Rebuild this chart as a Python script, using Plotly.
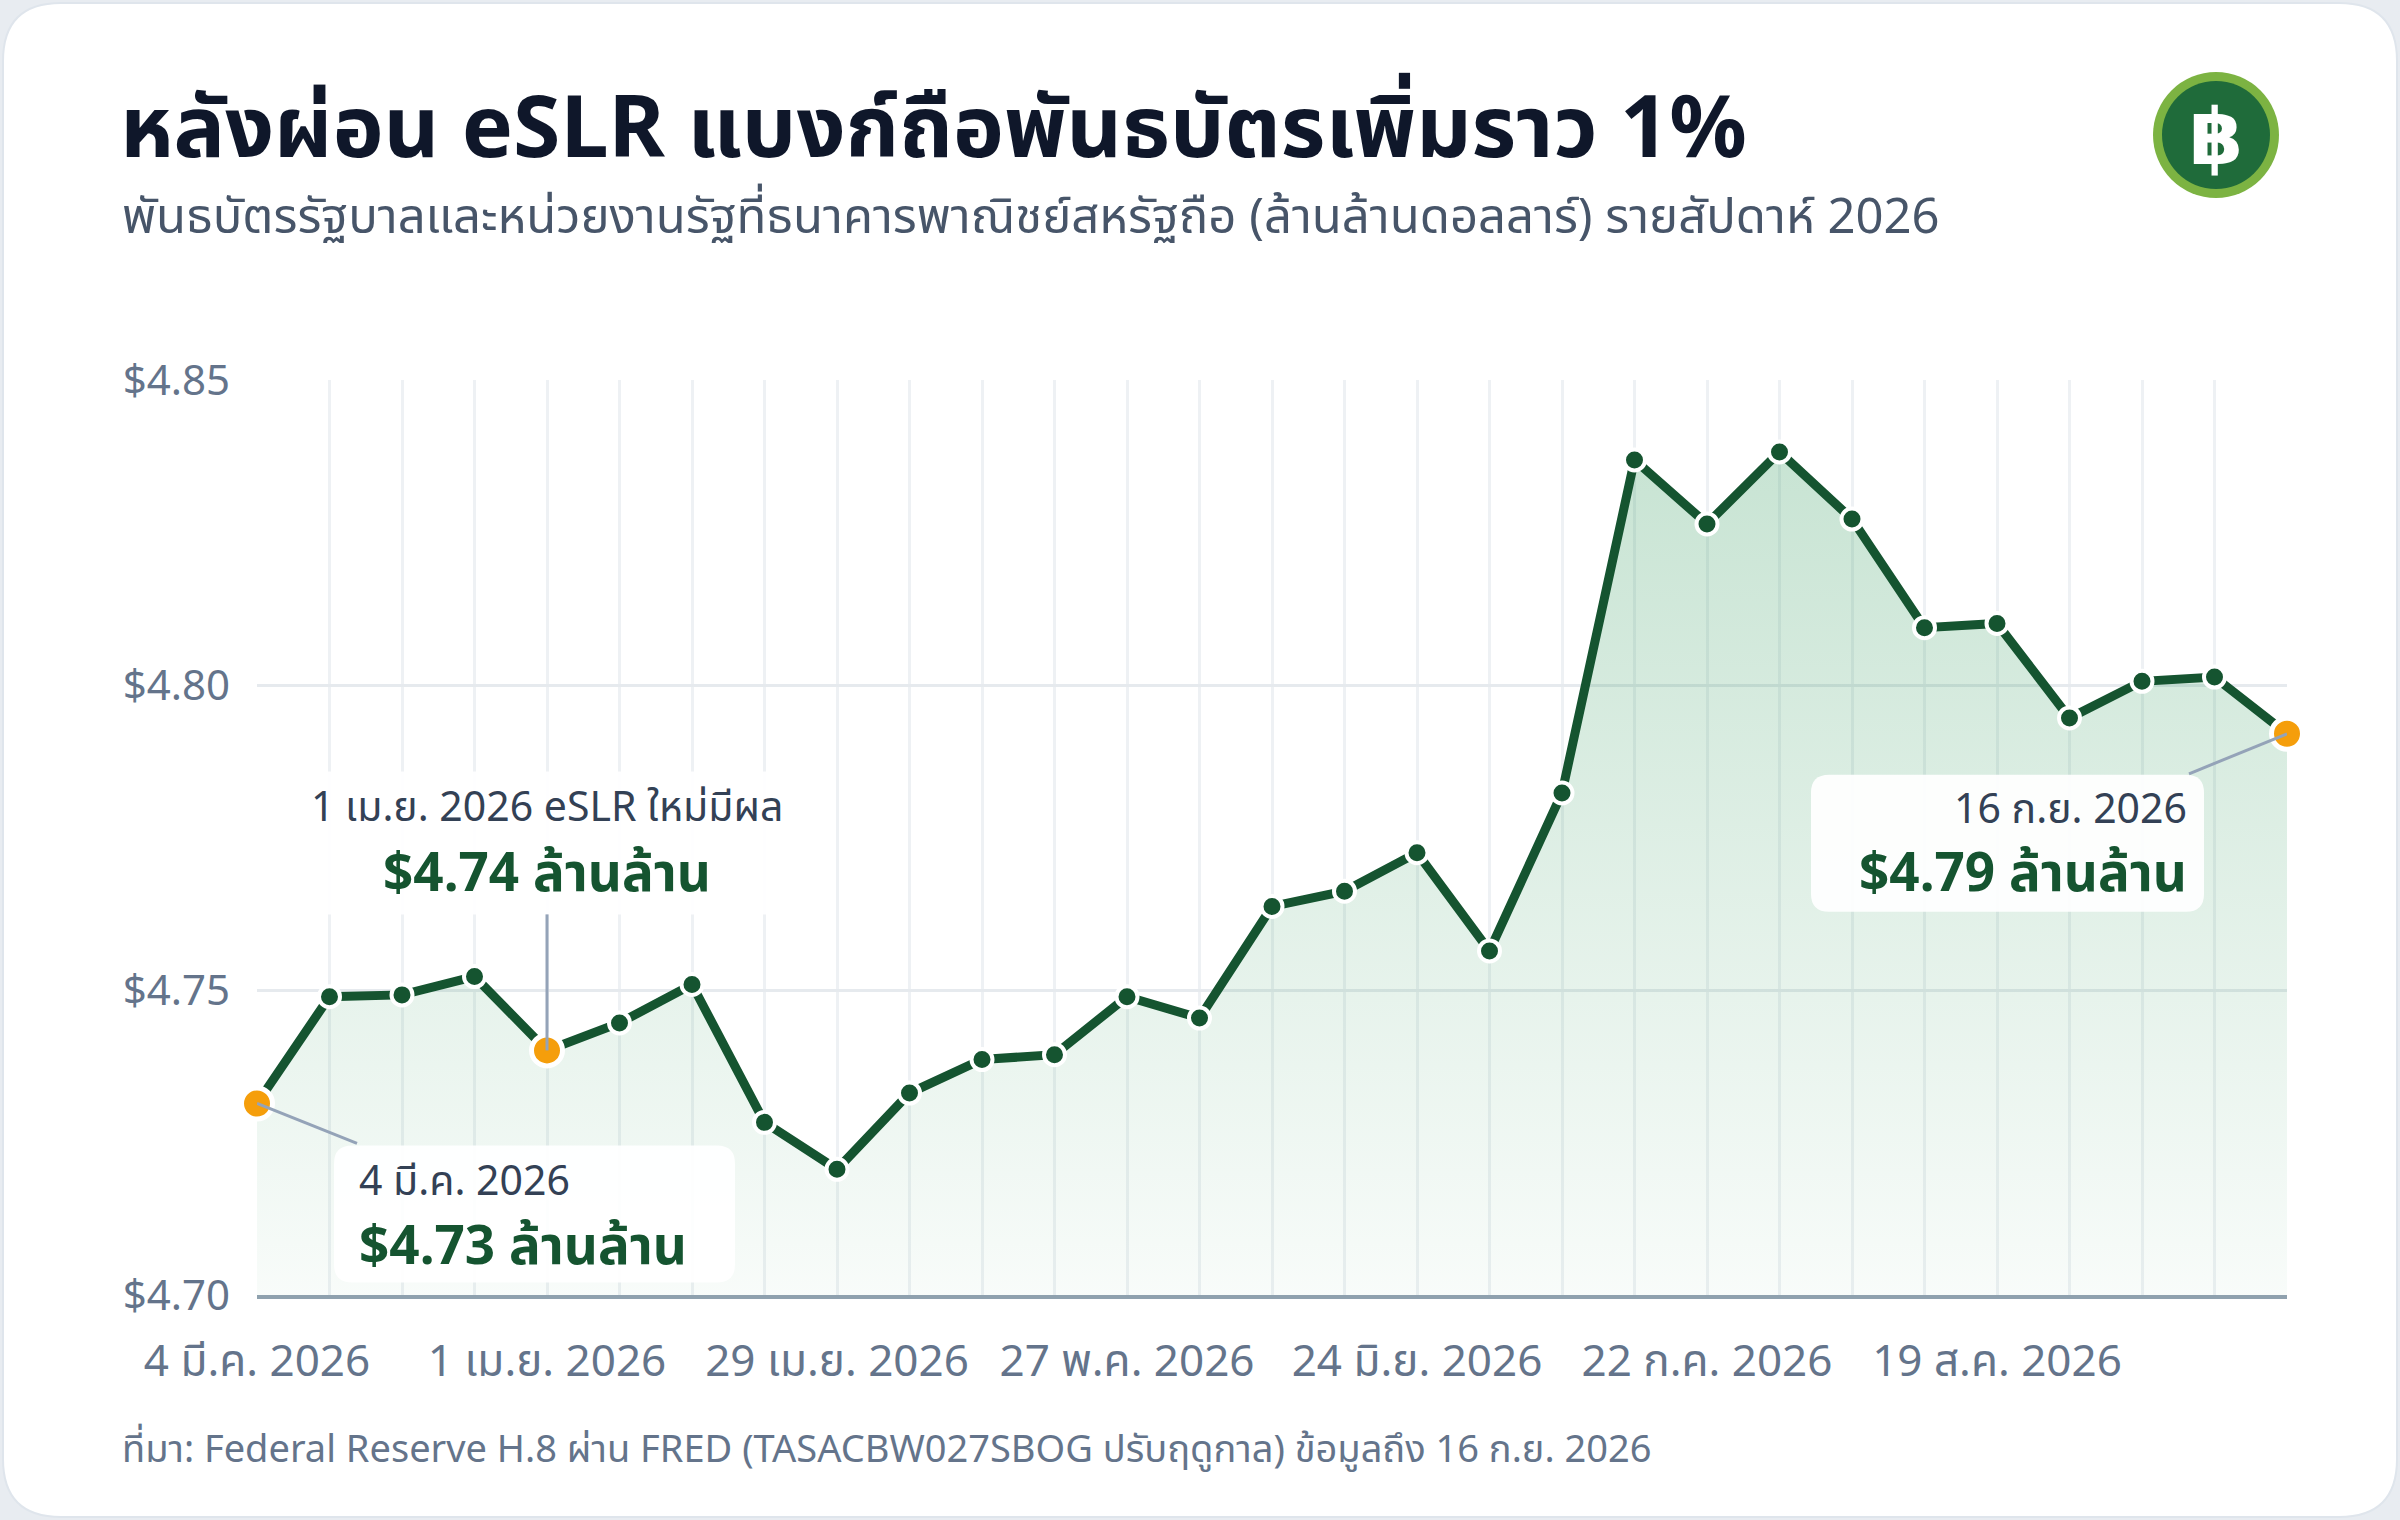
import plotly.graph_objects as go

# ---------------- data ----------------
dates = ["2026-03-04", "2026-03-11", "2026-03-18", "2026-03-25", "2026-04-01",
         "2026-04-08", "2026-04-15", "2026-04-22", "2026-04-29", "2026-05-06",
         "2026-05-13", "2026-05-20", "2026-05-27", "2026-06-03", "2026-06-10",
         "2026-06-17", "2026-06-24", "2026-07-01", "2026-07-08", "2026-07-15",
         "2026-07-22", "2026-07-29", "2026-08-05", "2026-08-12", "2026-08-19",
         "2026-08-26", "2026-09-02", "2026-09-09", "2026-09-16"]
values = [4.7314, 4.7489, 4.7492, 4.7522, 4.7401, 4.7446, 4.7509, 4.7283, 4.7206,
          4.7331, 4.7386, 4.7394, 4.7489, 4.7454, 4.7637, 4.7662, 4.7725, 4.7564,
          4.7823, 4.8369, 4.8264, 4.8382, 4.8272, 4.8094, 4.8101, 4.7946, 4.8006,
          4.8013, 4.7920]
highlight_idx = [0, 4, 28]
tick_dates = ["2026-03-04", "2026-04-01", "2026-04-29", "2026-05-27",
              "2026-06-24", "2026-07-22", "2026-08-19"]
tick_labels = ["4 มี.ค. 2026", "1 เม.ย. 2026", "29 เม.ย. 2026", "27 พ.ค. 2026",
               "24 มิ.ย. 2026", "22 ก.ค. 2026", "19 ส.ค. 2026"]
y_ticks = [4.70, 4.75, 4.80, 4.85]

title = "หลังผ่อน eSLR แบงก์ถือพันธบัตรเพิ่มราว 1%"
subtitle = "พันธบัตรรัฐบาลและหน่วยงานรัฐที่ธนาคารพาณิชย์สหรัฐถือ (ล้านล้านดอลลาร์) รายสัปดาห์ 2026"
source = "ที่มา: Federal Reserve H.8 ผ่าน FRED (TASACBW027SBOG ปรับฤดูกาล) ข้อมูลถึง 16 ก.ย. 2026"
callouts = [
    {"idx": 4, "line1": "1 เม.ย. 2026 eSLR ใหม่มีผล", "line2": "$4.74 ล้านล้าน"},
    {"idx": 0, "line1": "4 มี.ค. 2026", "line2": "$4.73 ล้านล้าน"},
    {"idx": 28, "line1": "16 ก.ย. 2026", "line2": "$4.79 ล้านล้าน"},
]

# ---------------- layout geometry ----------------
W, H = 2400, 1520
L, R, T, B = 257, 2287, 380, 1295
FONT = "Noto Sans, Noto Sans Thai, sans-serif"
GREEN = "#155430"
ORANGE = "#f59e0b"


def px(x):
    return (x - L) / (R - L)


def py(y):
    return (B - y) / (B - T)


def rrect_paper(x0, y0, x1, y1, r):
    def P(x, y):
        return f"{px(x):.5f},{py(y):.5f}"
    return (f"M {P(x0 + r, y0)} L {P(x1 - r, y0)} Q {P(x1, y0)} {P(x1, y0 + r)} "
            f"L {P(x1, y1 - r)} Q {P(x1, y1)} {P(x1 - r, y1)} L {P(x0 + r, y1)} "
            f"Q {P(x0, y1)} {P(x0, y1 - r)} L {P(x0, y0 + r)} Q {P(x0, y0)} {P(x0 + r, y0)} Z")


def rrect_pix(x0, x1, yb, yt, r):
    # pixel offsets, y positive up
    return (f"M {x0 + r},{yt} L {x1 - r},{yt} Q {x1},{yt} {x1},{yt - r} "
            f"L {x1},{yb + r} Q {x1},{yb} {x1 - r},{yb} L {x0 + r},{yb} "
            f"Q {x0},{yb} {x0},{yb + r} L {x0},{yt - r} Q {x0},{yt} {x0 + r},{yt} Z")


fig = go.Figure()

fig.add_trace(go.Scatter(
    x=dates, y=values, mode="lines+markers", fill="tozeroy",
    fillgradient=dict(type="vertical", start=4.70, stop=4.84,
                      colorscale=[[0, "rgba(22,140,70,0.03)"], [1, "rgba(22,140,70,0.24)"]]),
    line=dict(color=GREEN, width=9),
    marker=dict(size=21, color=GREEN, line=dict(color="white", width=4)),
    hoverinfo="skip", showlegend=False))

fig.add_trace(go.Scatter(
    x=[dates[i] for i in highlight_idx], y=[values[i] for i in highlight_idx],
    mode="markers", marker=dict(size=31, color=ORANGE, line=dict(color="white", width=5)),
    hoverinfo="skip", showlegend=False, cliponaxis=False))

shapes = []
annotations = []

# card
shapes.append(dict(type="path", xref="paper", yref="paper", layer="below",
                   path=rrect_paper(3, 3, 2397, 1517, 58),
                   fillcolor="white", line=dict(color="#dfe5ec", width=2)))

# icon
cx, cy = 2216, 135
for rad, col in [(63, "#7cb342"), (54, "#1f6b3a")]:
    shapes.append(dict(type="circle", xref="paper", yref="paper", layer="above",
                       x0=px(cx - rad), x1=px(cx + rad), y0=py(cy + rad), y1=py(cy - rad),
                       fillcolor=col, line=dict(width=0)))
annotations.append(dict(xref="paper", yref="paper", x=px(cx), y=py(cy + 2), text="<b>฿</b>",
                        showarrow=False, xanchor="center", yanchor="middle",
                        font=dict(family="DejaVu Sans", size=78, color="white")))

# title, subtitle, source
annotations.append(dict(xref="paper", yref="paper", x=px(118), y=py(123), text=f"<b>{title}</b>",
                        showarrow=False, xanchor="left", yanchor="middle",
                        font=dict(family=FONT, size=86, color="#0f172a")))
annotations.append(dict(xref="paper", yref="paper", x=px(120), y=py(214), text=subtitle,
                        showarrow=False, xanchor="left", yanchor="middle",
                        font=dict(family=FONT, size=49, color="#475569")))
annotations.append(dict(xref="paper", yref="paper", x=px(120), y=py(1447), text=source,
                        showarrow=False, xanchor="left", yanchor="middle",
                        font=dict(family=FONT, size=38, color="#64748b")))

# callouts: (box dx0, dx1, dy_bottom, dy_top), text anchor, text dx, dy line1, dy line2, connector end
callout_geom = {
    4: dict(box=(-263, 265, 136, 279), anchor="center", tdx=0, dy1=245, dy2=180, conn=(0, 136)),
    0: dict(box=(77, 478, -179, -42), anchor="left", tdx=100, dy1=-76, dy2=-140, conn=(100, -40)),
    28: dict(box=(-476, -83, -178, -41), anchor="right", tdx=-98, dy1=-73, dy2=-137, conn=(-98, -40)),
}
for c in callouts:
    i = c["idx"]
    g = callout_geom[i]
    bx0, bx1, byb, byt = g["box"]
    shapes.append(dict(type="path", xref="x", yref="y", layer="above",
                       xsizemode="pixel", ysizemode="pixel",
                       xanchor=dates[i], yanchor=values[i],
                       path=rrect_pix(bx0, bx1, byb, byt, 18),
                       fillcolor="rgba(255,255,255,0.93)", line=dict(width=0)))
    shapes.append(dict(type="line", xref="x", yref="y", layer="above",
                       xsizemode="pixel", ysizemode="pixel",
                       xanchor=dates[i], yanchor=values[i],
                       x0=0, y0=0, x1=g["conn"][0], y1=g["conn"][1],
                       line=dict(color="#94a3b8", width=3)))
    annotations.append(dict(x=dates[i], y=values[i], xref="x", yref="y", text=c["line1"],
                            showarrow=False, xanchor=g["anchor"], yanchor="middle",
                            xshift=g["tdx"], yshift=g["dy1"],
                            font=dict(family=FONT, size=41, color="#334155")))
    annotations.append(dict(x=dates[i], y=values[i], xref="x", yref="y", text=f"<b>{c['line2']}</b>",
                            showarrow=False, xanchor=g["anchor"], yanchor="middle",
                            xshift=g["tdx"], yshift=g["dy2"],
                            font=dict(family=FONT, size=53, color=GREEN)))

fig.update_layout(
    width=W, height=H, margin=dict(l=L, r=W - R, t=T, b=H - B, pad=0),
    paper_bgcolor="#e8ecf1", plot_bgcolor="rgba(0,0,0,0)",
    shapes=shapes, annotations=annotations, showlegend=False,
    font=dict(family=FONT),
)
fig.update_xaxes(
    type="date", range=[dates[0], dates[-1]],
    tickmode="array", tickvals=tick_dates, ticktext=tick_labels,
    tickfont=dict(family=FONT, size=44, color="#64748b"),
    ticks="", ticklabelstandoff=24,
    showgrid=True, gridcolor="#eef1f4", gridwidth=3,
    minor=dict(tickmode="array", tickvals=dates, showgrid=True, gridcolor="#eef1f4", gridwidth=3, ticks=""),
    showline=True, linecolor="#8fa1ae", linewidth=4, zeroline=False,
)
fig.update_yaxes(
    range=[4.70, 4.85], tickmode="array", tickvals=y_ticks, tickformat="$.2f",
    tickfont=dict(family=FONT, size=42, color="#64748b"),
    ticks="", ticklabelstandoff=26,
    showgrid=True, gridcolor="#e6eaee", gridwidth=3, zeroline=False, showline=False,
)

fig.write_html("out.html")
